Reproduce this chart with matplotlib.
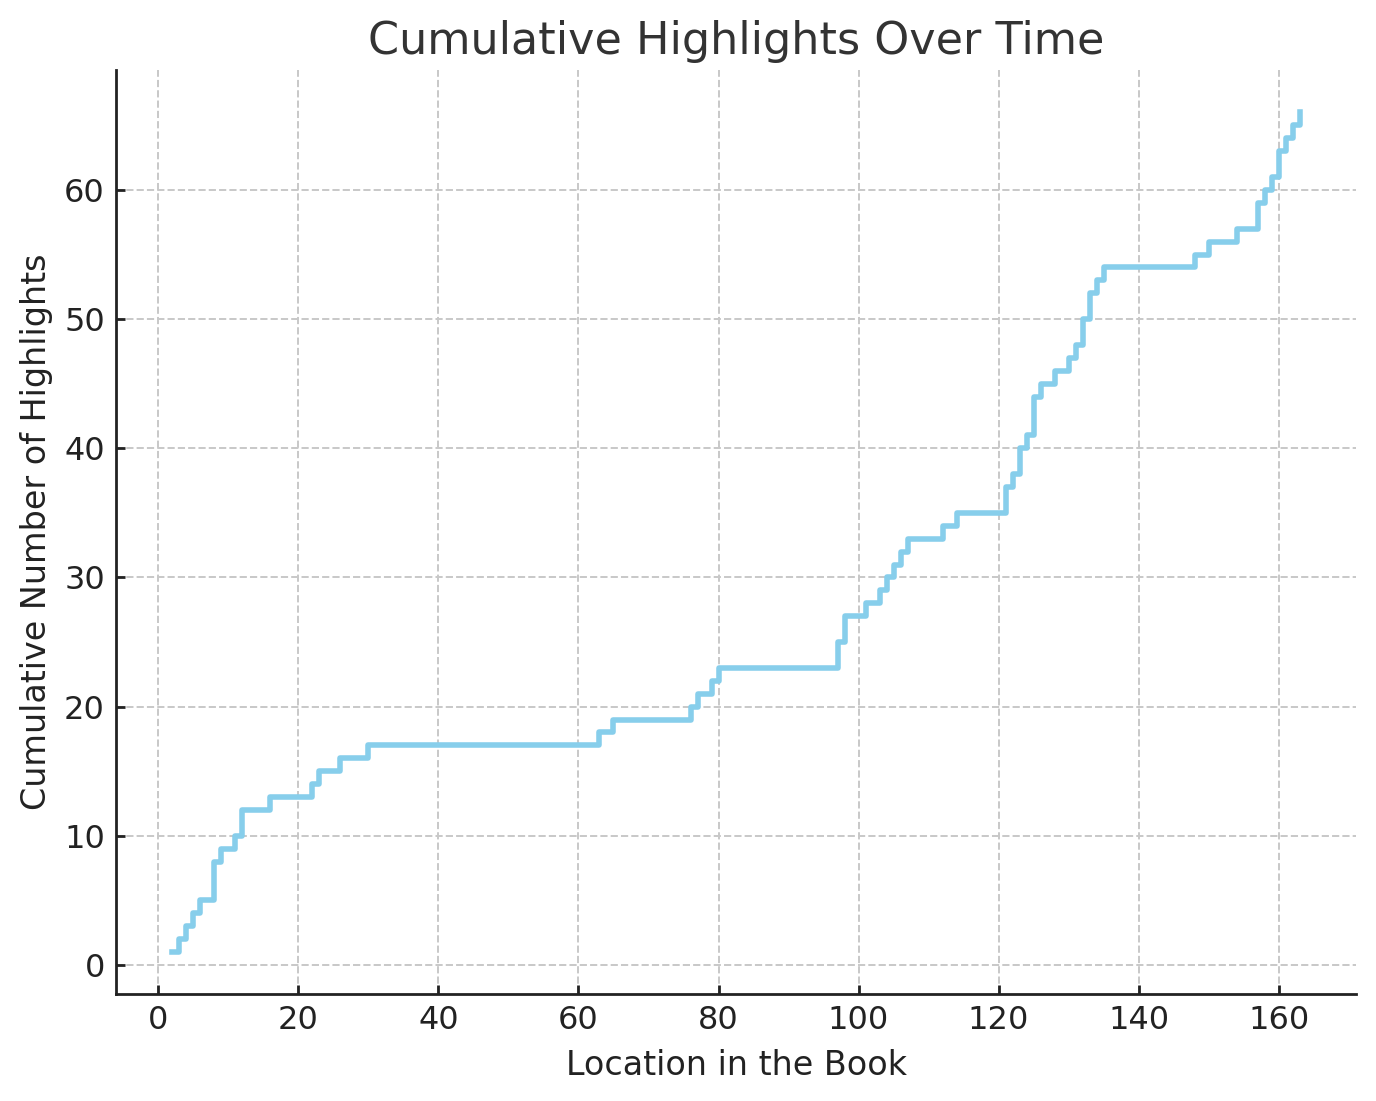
import matplotlib
matplotlib.use("Agg")
import matplotlib.pyplot as plt

# locations in the book where the running total changes, and the running total there
locations = [2, 3, 4, 5, 6, 8, 9, 11, 12, 16, 22, 23, 26, 30,
             63, 65, 76, 77, 79, 80, 97, 98, 101, 103, 104, 105, 106, 107,
             112, 114, 121, 122, 123, 124, 125, 126, 128, 130, 131, 132, 133,
             134, 135, 148, 150, 154, 157, 158, 159, 160, 161, 162, 163]
cumulative = [1, 2, 3, 4, 5, 8, 9, 10, 12, 13, 14, 15, 16, 17,
              18, 19, 20, 21, 22, 23, 25, 27, 28, 29, 30, 31, 32, 33,
              34, 35, 37, 38, 40, 41, 44, 45, 46, 47, 48, 50, 52,
              53, 54, 55, 56, 57, 59, 60, 61, 63, 64, 65, 66]

fig = plt.figure(figsize=(6.88, 5.505), dpi=200)
ax = fig.add_axes([0.0843, 0.0972, 0.9012, 0.8388])

ax.step(locations, cumulative, where="post", color="skyblue", linewidth=2)

ax.set_title("Cumulative Highlights Over Time", fontsize=16, color="#333333")
ax.set_xlabel("Location in the Book", fontsize=12, color="#222222", labelpad=4.5)
ax.set_ylabel("Cumulative Number of Highlights", fontsize=12, color="#222222")
ax.tick_params(labelsize=11.5, colors="#222222", direction="in",
               length=3.3, width=1, pad=4)
ax.grid(True, linestyle="--", color="#c8c8c8", linewidth=0.7)

for side in ["top", "right"]:
    ax.spines[side].set_visible(False)
for side in ["left", "bottom"]:
    ax.spines[side].set_color("#222222")
    ax.spines[side].set_linewidth(1)

fig.savefig("out.png", dpi=200)
